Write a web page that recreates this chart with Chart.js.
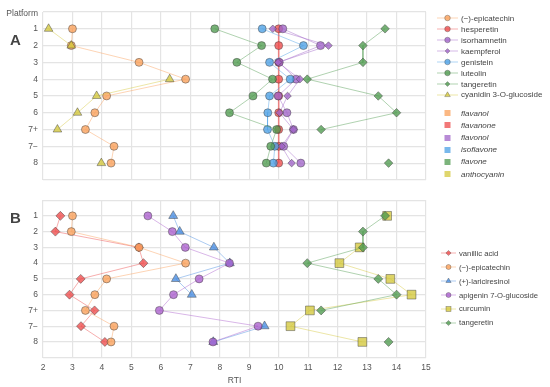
<!DOCTYPE html>
<html>
<head>
<meta charset="utf-8">
<script src="https://cdn.jsdelivr.net/npm/chart.js@4.4.0/dist/chart.umd.min.js"></script>
<style>
  body { margin: 0; width: 550px; height: 387px; position: relative; background: #fff; overflow: hidden;
         font-family: "Liberation Sans", Arial, sans-serif; }
  canvas { position: absolute; left: 0; }
  #chartA { top: 0; }
  #chartB { top: 190px; }
  .txt { position: absolute; color: #555; white-space: nowrap; }
  .panel { position: absolute; font-weight: bold; font-size: 15px; color: #444; }
  .row { position: absolute; display: flex; align-items: center; height: 10px; color: #444; white-space: nowrap; }
  .row svg { display: block; }
</style>
</head>
<body>
<canvas id="chartA" width="550" height="190"></canvas>
<canvas id="chartB" width="550" height="197"></canvas>
<div class="txt" style="right:512px;top:8px;font-size:8.5px;">Platform</div>
<div class="panel" style="left:10px;top:31px;">A</div>
<div class="panel" style="left:10px;top:209px;">B</div>
<div id="legendA"></div>
<div id="legendB"></div>

<script>
// platforms (y categories) and RTI ticks
const platforms = ['1', '2', '3', '4', '5', '6', '7+', '7\u2212', '8'];
const rtiTicks = [2, 3, 4, 5, 6, 7, 8, 9, 10, 11, 12, 13, 14, 15];

// panel A values (RTI per platform, null = not detected)
const epicatechin = [3.0, 2.96, 5.26, 6.84, 4.16, 3.76, 3.44, 4.41, 4.31];
const hesperetin = [10.0, 10.0, 10.0, 10.0, 10.0, 10.0, 10.0, 10.0, 10.0];
const isorhamnetin = [10.14, 11.42, 10.02, 10.59, 9.98, 10.28, 10.5, 10.17, 10.75];
const kaempferol = [9.8, 11.69, 9.98, 10.72, 10.3, 10.03, 10.5, 10.1, 10.44];
const genistein = [9.44, 10.84, 9.69, 10.39, 9.69, 9.63, 9.62, 9.87, 9.82];
const luteolin = [7.83, 9.42, 8.58, 9.79, 9.13, 8.33, 9.93, 9.73, 9.58];
const tangeretin = [13.61, 12.86, 12.86, 10.97, 13.38, 14.0, 11.44, null, 13.73];
const cyanidin3G = [2.19, 2.96, null, 6.3, 3.82, 3.17, 2.49, null, 3.98];

// panel B values
const vanillicAcid = [2.59, 2.42, 5.25, 5.41, 3.28, 2.9, 3.75, 3.29, 4.1];
const lariciresinol = [6.42, 6.64, 7.8, 8.34, 6.51, 7.05, null, 9.52, 7.78];
const apigenin7G = [5.56, 6.39, 6.83, 8.33, 7.3, 6.43, 5.95, 9.3, 7.77];
const curcumin = [13.68, null, 12.75, 12.06, 13.79, 14.51, 11.06, 10.4, 12.84];

// compound classes
const classNames = ['flavanol', 'flavanone', 'flavonol', 'isoflavone', 'flavone', 'anthocyanin'];

const colors = {
  orange: [250, 160, 90],
  red: [238, 75, 75],
  purple: [160, 100, 200],
  blue: [75, 160, 230],
  green: [80, 155, 80],
  yellow: [212, 200, 60],
  blueB: [70, 140, 225],
  purpleB: [170, 95, 205]
};
const classColors = [colors.orange, colors.red, colors.purple, colors.blue, colors.green, colors.yellow];

const rgba = (c, a) => `rgba(${c[0]},${c[1]},${c[2]},${a})`;

// one line+marker series
function series(label, values, color, shape, radius, lineWidth = 1, lineAlpha = 0.45) {
  return {
    label,
    data: values.map((v, i) => ({ x: v, y: i + 1 })),
    showLine: true,
    spanGaps: false,
    borderColor: rgba(color, lineAlpha),
    borderWidth: lineWidth,
    pointBackgroundColor: rgba(color, 0.78),
    pointBorderColor: 'rgba(55,55,55,0.55)',
    pointBorderWidth: 0.8,
    pointStyle: shape,
    pointRadius: radius,
    pointHoverRadius: radius
  };
}

const gridColor = '#e4e4e4';

function panelOptions(bottomAxis) {
  return {
    responsive: false,
    animation: false,
    layout: { padding: { top: bottomAxis ? 1 : 12, right: 124, left: 0, bottom: 0 } },
    plugins: { legend: { display: false }, tooltip: { enabled: false } },
    scales: {
      x: {
        type: 'linear', min: 2, max: 15,
        afterBuildTicks: s => { s.ticks = rtiTicks.map(v => ({ value: v })); },
        grid: { color: gridColor, lineWidth: 1.2, drawTicks: false },
        border: { display: false },
        ticks: { display: bottomAxis, autoSkip: false, maxRotation: 0, padding: 5, color: '#555',
                 font: { family: 'Liberation Sans', size: 8.5 } },
        title: { display: bottomAxis, text: 'RTI', color: '#555', padding: { top: 0, bottom: 1 },
                 font: { family: 'Liberation Sans', size: 8.5 } },
        afterFit: s => { s.height = bottomAxis ? 29.3 : 10; }
      },
      y: {
        type: 'linear', min: 0, max: 10, reverse: true,
        afterBuildTicks: s => { s.ticks = [0, 1, 2, 3, 4, 5, 6, 7, 8, 9, 10].map(v => ({ value: v })); },
        grid: { color: gridColor, lineWidth: 1.2, drawTicks: false },
        border: { display: false },
        ticks: { autoSkip: false, padding: 5, color: '#555', font: { family: 'Liberation Sans', size: 8.5 },
                 callback: v => platforms[v - 1] || '' },
        afterFit: s => { s.width = 43; }
      }
    }
  };
}

// later datasets drawn on top (like the original plot)
function withOrder(sets) {
  sets.forEach((d, i) => { d.order = sets.length - i; });
  return sets;
}

const setsA = withOrder([
  series('(\u2212)-epicatechin', epicatechin, colors.orange, 'circle', 4),
  series('hesperetin', hesperetin, colors.red, 'circle', 4, 1.6, 0.65),
  series('isorhamnetin', isorhamnetin, colors.purple, 'circle', 4),
  series('kaempferol', kaempferol, colors.purple, 'rectRot', 3.8),
  series('genistein', genistein, colors.blue, 'circle', 4),
  series('luteolin', luteolin, colors.green, 'circle', 4),
  series('tangeretin', tangeretin, colors.green, 'rectRot', 4.3),
  series('cyanidin 3-O-glucoside', cyanidin3G, colors.yellow, 'triangle', 5)
]);

const setsB = withOrder([
  series('vanillic acid', vanillicAcid, colors.red, 'rectRot', 4.5),
  series('(\u2212)-epicatechin', epicatechin, colors.orange, 'circle', 4),
  series('(+)-lariciresinol', lariciresinol, colors.blueB, 'triangle', 5.2),
  series('apigenin 7-O-glucoside', apigenin7G, colors.purpleB, 'circle', 4),
  series('curcumin', curcumin, colors.yellow, 'rect', 6.2),
  series('tangeretin', tangeretin, colors.green, 'rectRot', 4.5)
]);

new Chart(document.getElementById('chartA'), { type: 'scatter', data: { datasets: setsA }, options: panelOptions(false) });
new Chart(document.getElementById('chartB'), { type: 'scatter', data: { datasets: setsB }, options: panelOptions(true) });

// legend icons
function markerSvg(shape, c, size) {
  const fill = rgba(c, 0.8), stroke = 'rgba(55,55,55,0.55)';
  const s = size;
  if (shape === 'circle') return `<circle cx="0" cy="0" r="${s}" fill="${fill}" stroke="${stroke}" stroke-width="0.6"/>`;
  if (shape === 'rectRot') return `<polygon points="0,${-s} ${s},0 0,${s} ${-s},0" fill="${fill}" stroke="${stroke}" stroke-width="0.6"/>`;
  if (shape === 'triangle') return `<polygon points="0,${-s} ${s * 0.87},${s * 0.5} ${-s * 0.87},${s * 0.5}" fill="${fill}" stroke="${stroke}" stroke-width="0.6"/>`;
  return `<rect x="${-s}" y="${-s}" width="${2 * s}" height="${2 * s}" fill="${fill}" stroke="${stroke}" stroke-width="0.6"/>`;
}

function lineIcon(shape, c, size, w) {
  return `<svg width="${w}" height="10"><line x1="0" y1="5" x2="${w}" y2="5" stroke="${rgba(c, 0.45)}" stroke-width="1"/>` +
    `<g transform="translate(${w / 2},5)">${markerSvg(shape, c, size)}</g></svg>`;
}

function buildLegend(el, items, left, top0, step, iconW, gap, fontSize) {
  el.innerHTML = items.map((it, i) =>
    `<div class="row" style="left:${left}px;top:${top0 + i * step - 5}px;font-size:${fontSize}px;${it.italic ? 'font-style:italic;' : ''}">` +
    `${it.icon}<span style="margin-left:${gap}px">${it.label}</span></div>`).join('');
}

const legendA = [
  ['(\u2212)-epicatechin', 'circle', colors.orange, 2.8],
  ['hesperetin', 'circle', colors.red, 2.8],
  ['isorhamnetin', 'circle', colors.purple, 2.8],
  ['kaempferol', 'rectRot', colors.purple, 2.4],
  ['genistein', 'circle', colors.blue, 2.8],
  ['luteolin', 'circle', colors.green, 2.8],
  ['tangeretin', 'rectRot', colors.green, 2.4],
  ['cyanidin 3-O-glucoside', 'triangle', colors.yellow, 3.2]
].map(([label, shape, c, s]) => ({ label, icon: lineIcon(shape, c, s, 21) }));

const classLegend = classNames.map((label, i) => ({
  label, italic: true,
  icon: `<svg width="21" height="10"><rect x="7.5" y="2" width="6" height="6" fill="${rgba(classColors[i], 0.75)}"/></svg>`
}));

const legendB = [
  ['vanillic acid', 'rectRot', colors.red, 2.6],
  ['(\u2212)-epicatechin', 'circle', colors.orange, 2.5],
  ['(+)-lariciresinol', 'triangle', colors.blueB, 3],
  ['apigenin 7-O-glucoside', 'circle', colors.purpleB, 2.5],
  ['curcumin', 'rect', colors.yellow, 2.5],
  ['tangeretin', 'rectRot', colors.green, 2.6]
].map(([label, shape, c, s]) => ({ label, icon: lineIcon(shape, c, s, 15) }));

const legA = document.getElementById('legendA');
buildLegend(legA, legendA, 437, 18.3, 10.95, 21, 3, 8);
const legCls = document.createElement('div');
legA.appendChild(legCls);
buildLegend(legCls, classLegend, 437, 113.3, 12.15, 21, 3, 8);
buildLegend(document.getElementById('legendB'), legendB, 441, 253.3, 13.9, 15, 3, 7.7);
</script>
</body>
</html>
